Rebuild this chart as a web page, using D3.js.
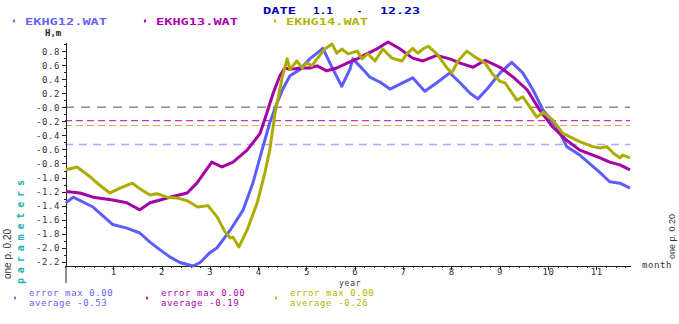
<!DOCTYPE html>
<html>
<head>
<meta charset="utf-8">
<script src="https://cdn.jsdelivr.net/npm/d3@7"></script>
<style>
  body { margin: 0; background: #fff; }
  svg { display: block; }
  .mono { font-family: "DejaVu Sans Mono", monospace; }
  .axis path, .axis line { stroke: #222; shape-rendering: crispEdges; }
  .axis text { font-family: "DejaVu Sans Mono", monospace; font-size: 9px; letter-spacing: 0.6px; fill: #333; }
</style>
</head>
<body>
<svg id="chart" width="679" height="324"></svg>
<script>
// months since 1.1
const monthsA = [0.02,0.17,0.58,0.99,1.28,1.55,1.76,1.97,2.17,2.38,2.65,2.80,3.00,3.15,3.42,3.69,3.89,4.08,4.24,4.39,4.51,4.66,4.87,5.07,5.34,5.55,5.73,5.90,5.96,6.17,6.31,6.52,6.73,6.94,7.20,7.45,7.70,7.97,8.18,8.39,8.55,8.74,9.01,9.25,9.48,9.69,9.90,10.19,10.39,10.66,11.08,11.28,11.49,11.70];
const ekhg12 = [-1.36,-1.28,-1.42,-1.67,-1.72,-1.79,-1.92,-2.03,-2.13,-2.21,-2.26,-2.21,-2.07,-2.00,-1.75,-1.46,-1.08,-0.61,-0.22,0.06,0.26,0.45,0.54,0.69,0.84,0.54,0.30,0.54,0.69,0.54,0.43,0.36,0.26,0.33,0.42,0.23,0.35,0.49,0.35,0.20,0.12,0.26,0.49,0.64,0.49,0.25,-0.04,-0.28,-0.56,-0.68,-0.93,-1.06,-1.08,-1.15];

const monthsB = [0.02,0.31,0.58,0.99,1.28,1.55,1.76,1.97,2.17,2.53,2.73,3.04,3.25,3.48,3.77,3.93,4.04,4.18,4.31,4.45,4.55,4.66,4.87,5.07,5.22,5.42,5.63,5.84,6.05,6.25,6.48,6.69,6.94,7.20,7.41,7.70,7.97,8.18,8.45,8.70,9.01,9.28,9.57,9.83,10.10,10.39,10.66,11.08,11.28,11.49,11.70];
const ekhg13 = [-1.20,-1.22,-1.28,-1.32,-1.36,-1.46,-1.36,-1.32,-1.28,-1.22,-1.08,-0.78,-0.85,-0.78,-0.61,-0.47,-0.37,-0.08,0.20,0.45,0.56,0.54,0.56,0.56,0.59,0.52,0.56,0.63,0.69,0.76,0.84,0.93,0.83,0.70,0.66,0.74,0.69,0.63,0.57,0.67,0.57,0.43,0.25,-0.04,-0.28,-0.47,-0.61,-0.72,-0.78,-0.82,-0.89];

const monthsC = [0.02,0.25,0.52,0.72,0.93,1.14,1.39,1.55,1.76,1.90,2.11,2.32,2.53,2.75,2.96,3.15,3.31,3.42,3.48,3.60,3.77,3.98,4.14,4.24,4.35,4.49,4.60,4.66,4.80,4.91,5.01,5.11,5.22,5.38,5.53,5.63,5.73,5.86,6.05,6.15,6.27,6.42,6.58,6.77,6.98,7.08,7.20,7.31,7.41,7.52,7.70,7.91,8.01,8.14,8.32,8.53,8.70,8.86,9.01,9.11,9.36,9.48,9.63,9.77,9.90,10.10,10.31,10.66,10.93,11.08,11.22,11.35,11.49,11.55,11.70];
const ekhg14 = [-0.89,-0.85,-0.99,-1.11,-1.22,-1.15,-1.08,-1.16,-1.25,-1.23,-1.28,-1.29,-1.33,-1.42,-1.40,-1.56,-1.77,-1.86,-1.85,-1.99,-1.75,-1.36,-0.93,-0.61,-0.08,0.40,0.69,0.54,0.66,0.56,0.63,0.59,0.69,0.83,0.90,0.77,0.83,0.76,0.80,0.69,0.76,0.66,0.83,0.70,0.66,0.76,0.84,0.77,0.83,0.87,0.76,0.56,0.49,0.66,0.80,0.70,0.63,0.47,0.37,0.35,0.10,0.15,0.00,-0.14,-0.07,-0.18,-0.37,-0.49,-0.56,-0.58,-0.56,-0.65,-0.72,-0.68,-0.72];

const seriesNames = ["EKHG12.WAT", "EKHG13.WAT", "EKHG14.WAT"];
const seriesColors = ["#5c5cff", "#a400a4", "#acac00"];
const textColors = ["#6464f4", "#b000b0", "#b4b400"];
const averages = [-0.53, -0.19, -0.26];
const errorMax = [0.00, 0.00, 0.00];
const avgColors = ["#a8a8ff", "#d030d0", "#b8b850"];
const monthTicks = [1,2,3,4,5,6,7,8,9,10,11];

const svg = d3.select("#chart");

const x = d3.scaleLinear().domain([0, 11.7]).range([65, 630]);
const y = d3.scaleLinear().domain([0.93, -2.26]).range([42, 266]);

// title, widths forced to the bitmap font of the original
const title = svg.append("g").attr("class", "mono")
    .attr("font-size", 8.5).attr("font-weight", "bold").attr("fill", "#0000b4");
[["DATE", 263, 33], ["1.1", 313, 20], ["-", 357, 5], ["12.23", 380, 40]].forEach(([t, px, w]) => {
    title.append("text").attr("x", px).attr("y", 14)
        .attr("textLength", w).attr("lengthAdjust", "spacingAndGlyphs").text(t);
});

// top legend
const legX = [14, 145, 275];
seriesNames.forEach((name, i) => {
    svg.append("path")
        .attr("d", d3.symbol(d3.symbolDiamond).size(6)())
        .attr("transform", `translate(${legX[i]},21)`)
        .attr("fill", textColors[i]);
    svg.append("text").attr("class", "mono")
        .attr("x", legX[i] + 11).attr("y", 24.5)
        .attr("font-size", 8.5).attr("font-weight", "bold")
        .attr("textLength", 82).attr("lengthAdjust", "spacingAndGlyphs")
        .attr("fill", textColors[i]).text(name);
});

svg.append("text").attr("class", "mono").attr("x", 45).attr("y", 36)
    .attr("font-size", 9).attr("font-weight", "bold").attr("fill", "#222").text("H,m");

// average dashed lines
svg.append("line")
    .attr("x1", x(0)).attr("x2", x(11.7)).attr("y1", y(0)).attr("y2", y(0))
    .attr("stroke", "#8a8a8a").attr("stroke-width", 1.6).attr("stroke-dasharray", "9,7");
averages.forEach((a, i) => {
    svg.append("line")
        .attr("x1", x(0)).attr("x2", x(11.7)).attr("y1", y(a)).attr("y2", y(a))
        .attr("stroke", avgColors[i]).attr("stroke-width", i == 0 ? 1.6 : 1.1)
        .attr("stroke-dasharray", i == 0 ? "8,6" : "7,4");
});

// axes
const yTicks = d3.range(-22, 10, 2).map(d => d / 10);
const yMinor = d3.range(-22, 10, 1).map(d => d / 10);
svg.append("g").attr("class", "axis")
    .attr("transform", `translate(${x(0) + 1},0)`)
    .call(d3.axisLeft(y).tickValues(yMinor).tickSize(2).tickFormat(""))
    .select(".domain").remove();
const yAxis = svg.append("g").attr("class", "axis")
    .attr("transform", `translate(${x(0) + 1},0)`)
    .call(d3.axisLeft(y).tickValues(yTicks).tickSize(4).tickSizeOuter(0)
        .tickFormat(d => d === 0 ? "-0.0" : d3.format(".1f")(d).replace("−", "-")));
yAxis.selectAll("text").attr("x", -6).attr("dy", "0.35em");

const xMinor = d3.range(0, 59).map(d => d / 5);
svg.append("g").attr("class", "axis")
    .attr("transform", `translate(0,${y(-2.26)})`)
    .call(d3.axisBottom(x).tickValues(xMinor).tickSize(2).tickFormat(""))
    .select(".domain").remove();
const xAxis = svg.append("g").attr("class", "axis")
    .attr("transform", `translate(0,${y(-2.26)})`)
    .call(d3.axisBottom(x).tickValues(monthTicks).tickSize(4).tickSizeOuter(0));
xAxis.selectAll("text").attr("y", 3);
svg.append("line").attr("x1", x(0) + 1).attr("x2", x(0) + 1)
    .attr("y1", y(-2.26)).attr("y2", 283).attr("stroke", "#222");

svg.append("text").attr("class", "mono").attr("x", 339).attr("y", 285.5)
    .attr("font-size", 8).style("letter-spacing", "0.8px").attr("fill", "#333").text("year");
svg.append("text").attr("class", "mono").attr("x", 642).attr("y", 268)
    .attr("font-size", 9).style("letter-spacing", "0.6px").attr("fill", "#333").text("month");

// side labels
svg.append("text").attr("transform", "translate(24,284) rotate(-90)")
    .attr("class", "mono").attr("font-size", 10).attr("font-weight", "bold")
    .attr("textLength", 104).attr("lengthAdjust", "spacing")
    .attr("fill", "#20b0b0").text("parameters");
svg.append("text").attr("transform", "translate(11,279) rotate(-90)")
    .attr("font-family", "Liberation Sans, Arial, sans-serif").attr("font-size", 10)
    .attr("fill", "#333").text("one p. 0.20");
svg.append("text").attr("transform", "translate(675,259) rotate(-90)")
    .attr("font-family", "Liberation Sans, Arial, sans-serif").attr("font-size", 9)
    .attr("fill", "#333").text("one p. 0.20");

// series
const line = d3.line().x(d => x(d[0])).y(d => y(d[1]));
const allSeries = [
    d3.zip(monthsA, ekhg12),
    d3.zip(monthsB, ekhg13),
    d3.zip(monthsC, ekhg14)
];
allSeries.forEach((s, i) => {
    svg.append("path").datum(s)
        .attr("d", line)
        .attr("fill", "none")
        .attr("stroke", seriesColors[i])
        .attr("stroke-width", 3)
        .attr("stroke-linejoin", "round");
});

// bottom legend
const botX = [15, 147, 276];
seriesNames.forEach((name, i) => {
    svg.append("path")
        .attr("d", d3.symbol(d3.symbolDiamond).size(5)())
        .attr("transform", `translate(${botX[i]},298)`)
        .attr("fill", textColors[i]);
    const t = svg.append("g").attr("class", "mono").attr("font-size", 9)
        .style("letter-spacing", "0.6px").attr("fill", textColors[i]);
    t.append("text").attr("x", botX[i] + 14).attr("y", 296)
        .text("error max " + errorMax[i].toFixed(2));
    t.append("text").attr("x", botX[i] + 14).attr("y", 306)
        .text("average " + averages[i].toFixed(2));
});
</script>
</body>
</html>
